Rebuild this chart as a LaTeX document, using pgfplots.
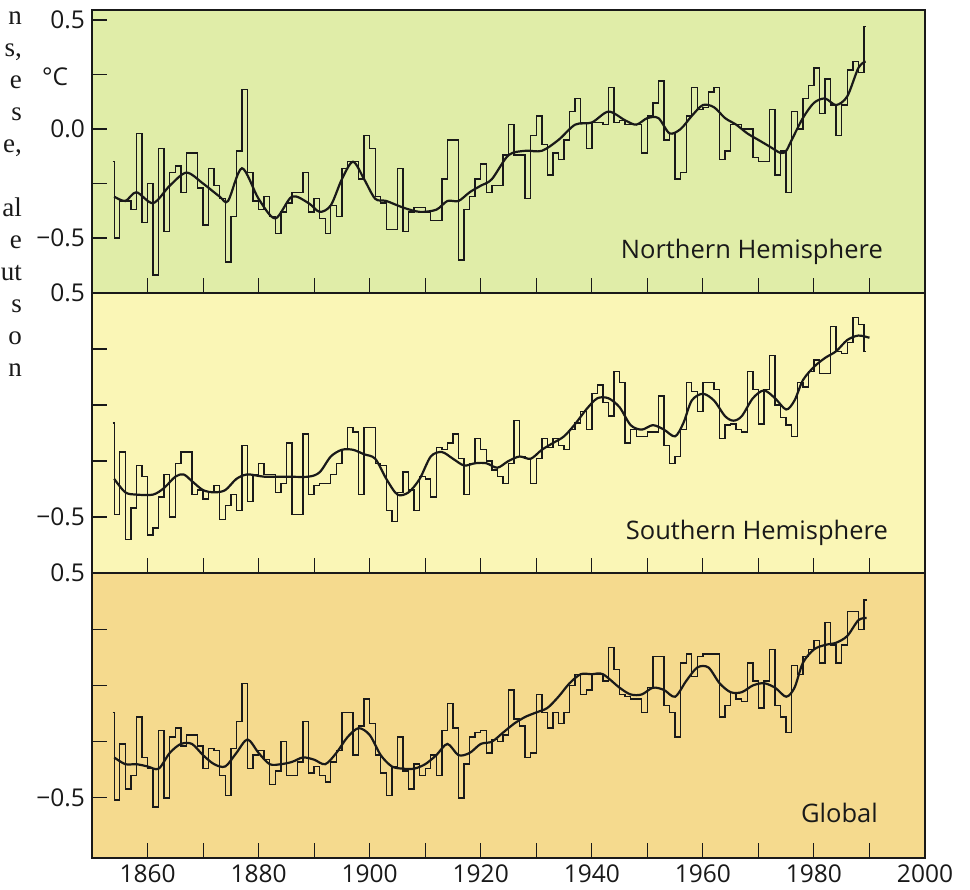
\documentclass[border=0pt]{standalone}
\usepackage{fontspec}
\setmainfont{Open Sans}
\newfontfamily\bookserif{Liberation Serif}
\usepackage{pgfplots}
\pgfplotsset{compat=1.18}
\definecolor{nhbg}{RGB}{224,237,168}
\definecolor{shbg}{RGB}{250,246,182}
\definecolor{glbg}{RGB}{245,218,142}
\definecolor{ink}{RGB}{25,25,25}
\pgfplotsset{
  panel/.style={
    scale only axis, width=833pt, xmin=1850, xmax=2000,
    anchor=south west,
    axis line style={draw=ink, line width=1.3pt},
    tick align=inside, xtick pos=bottom, ytick pos=left,
    tick style={draw=ink, line width=1.1pt},
    major tick length=15pt,
    xtick={1860,1870,...,2000},
    ytick={-0.5,-0.25,0,0.25,0.5},
    tick label style={font=\fontsize{24.5}{28}\selectfont, text=ink},
    yticklabel style={inner sep=0pt, xshift=-7pt},
    xticklabels={},
    clip=true,
  },
  step/.style={const plot, draw=ink, line width=1.4pt, mark=none},
  smo/.style={smooth, draw=ink, line width=2.2pt, mark=none},
}
\begin{document}
\begin{tikzpicture}
\path[use as bounding box] (0pt,0pt) rectangle (970pt,890pt);
\fill[white] (0pt,0pt) rectangle (970pt,890pt);
% clipped text fragments at left
\begin{scope}[every node/.style={anchor=base east, inner sep=0pt, font=\bookserif\fontsize{27}{32}\selectfont, text=ink}]
\node at (22pt,865pt) {n};
\node at (22pt,833pt) {s,};
\node at (22pt,801pt) {e};
\node at (22pt,769pt) {s};
\node at (22pt,737pt) {e,};
\node at (22pt,673pt) {al};
\node at (22pt,641pt) {e};
\node at (22pt,609pt) {ut};
\node at (22pt,577pt) {s};
\node at (22pt,545pt) {o};
\node at (22pt,513pt) {n};
\end{scope}
% ---------------- Northern Hemisphere ----------------
\begin{axis}[panel, at={(92pt,597pt)}, height=283pt, ymin=-0.752, ymax=0.546,
  axis background/.style={fill=nhbg},
  yticklabels={−0.5,,0.0,,0.5}]
\addplot[step] coordinates {
(1853.7,-0.15) (1854,-0.50) (1855,-0.33) (1856,-0.33) (1857,-0.37) (1858,-0.02) (1859,-0.43)
(1860,-0.25) (1861,-0.67) (1862,-0.09) (1863,-0.47) (1864,-0.20) (1865,-0.17) (1866,-0.29)
(1867,-0.11) (1868,-0.11) (1869,-0.27) (1870,-0.44) (1871,-0.18) (1872,-0.26) (1873,-0.32)
(1874,-0.61) (1875,-0.40) (1876,-0.10) (1877,0.18) (1878,-0.20) (1879,-0.33) (1880,-0.37)
(1881,-0.31) (1882,-0.40) (1883,-0.48) (1884,-0.38) (1885,-0.34) (1886,-0.29) (1887,-0.29)
(1888,-0.20) (1889,-0.38) (1890,-0.32) (1891,-0.41) (1892,-0.48) (1893,-0.35) (1894,-0.40)
(1895,-0.18) (1896,-0.15) (1897,-0.15) (1898,-0.23) (1899,-0.03) (1900,-0.09) (1901,-0.31)
(1902,-0.34) (1903,-0.46) (1904,-0.46) (1905,-0.18) (1906,-0.47) (1907,-0.38) (1908,-0.36)
(1909,-0.36) (1910,-0.38) (1911,-0.42) (1912,-0.42) (1913,-0.23) (1914,-0.05) (1915,-0.05)
(1916,-0.60) (1917,-0.37) (1918,-0.31) (1919,-0.23) (1920,-0.16) (1921,-0.29) (1922,-0.26)
(1923,-0.26) (1924,-0.12) (1925,0.02) (1926,-0.12) (1927,-0.12) (1928,-0.32) (1929,-0.03)
(1930,0.06) (1931,-0.07) (1932,-0.21) (1933,-0.11) (1934,-0.14) (1935,-0.05) (1936,0.08)
(1937,0.14) (1938,0.03) (1939,-0.09) (1940,0.03) (1941,0.03) (1942,0.02) (1943,0.19)
(1944,0.03) (1945,0.04) (1946,0.02) (1947,0.02) (1948,0.02) (1949,-0.11) (1950,0.06)
(1951,0.12) (1952,0.22) (1953,-0.05) (1954,-0.02) (1955,-0.23) (1956,-0.20) (1957,0.06)
(1958,0.19) (1959,0.09) (1960,0.10) (1961,0.17) (1962,0.19) (1963,-0.14) (1964,-0.10)
(1965,0.02) (1966,0.02) (1967,0.00) (1968,0.00) (1969,-0.13) (1970,-0.15) (1971,-0.15)
(1972,0.09) (1973,-0.21) (1974,-0.10) (1975,-0.29) (1976,0.08) (1977,0.00) (1978,0.14)
(1979,0.20) (1980,0.28) (1981,0.07) (1982,0.23) (1983,0.11) (1984,-0.03) (1985,0.11)
(1986,0.27) (1987,0.31) (1988,0.26) (1989,0.47) (1989.4,0.47)};
\addplot[smo] coordinates {
(1854,-0.31) (1856,-0.33) (1858,-0.29) (1861,-0.34) (1864,-0.26) (1867,-0.20) (1870,-0.25)
(1873,-0.31) (1874.5,-0.33) (1877,-0.18) (1880,-0.32) (1883,-0.41) (1886,-0.31) (1889,-0.34)
(1891,-0.38) (1893,-0.35) (1895,-0.23) (1897,-0.15) (1899,-0.23) (1901,-0.32) (1903,-0.33)
(1906,-0.36) (1909,-0.38) (1912,-0.37) (1914,-0.33) (1916,-0.33) (1918,-0.29) (1920,-0.26)
(1922,-0.23) (1925,-0.12) (1928,-0.10) (1931,-0.10) (1934,-0.05) (1937,0.02) (1940,0.03)
(1943,0.08) (1946,0.04) (1948,0.02) (1950,0.05) (1952,0.05) (1954,-0.02) (1956,0.00)
(1958,0.06) (1960,0.11) (1962,0.10) (1964,0.05) (1966,0.02) (1968,-0.02) (1970,-0.05)
(1972,-0.08) (1974,-0.11) (1975,-0.10) (1976,-0.05) (1978,0.05) (1980,0.12) (1982,0.14)
(1984,0.11) (1986,0.15) (1988,0.28) (1989.3,0.31)};
\end{axis}
% ---------------- Southern Hemisphere ----------------
\begin{axis}[panel, at={(92pt,317pt)}, height=280pt, ymin=-0.75, ymax=0.5,
  axis background/.style={fill=shbg},
  yticklabels={−0.5,,,,0.5}]
\addplot[step] coordinates {
(1853.7,-0.08) (1854,-0.49) (1855,-0.21) (1856,-0.60) (1857,-0.46) (1858,-0.27) (1859,-0.32)
(1860,-0.58) (1861,-0.55) (1862,-0.41) (1863,-0.31) (1864,-0.50) (1865,-0.26) (1866,-0.21)
(1867,-0.21) (1868,-0.40) (1869,-0.38) (1870,-0.42) (1871,-0.39) (1872,-0.36) (1873,-0.51)
(1874,-0.45) (1875,-0.40) (1876,-0.47) (1877,-0.18) (1878,-0.43) (1879,-0.31) (1880,-0.26)
(1881,-0.31) (1882,-0.31) (1883,-0.39) (1884,-0.35) (1885,-0.17) (1886,-0.49) (1887,-0.49)
(1888,-0.13) (1889,-0.40) (1890,-0.36) (1891,-0.35) (1892,-0.35) (1893,-0.31) (1894,-0.26)
(1895,-0.20) (1896,-0.10) (1897,-0.12) (1898,-0.40) (1899,-0.10) (1900,-0.10) (1901,-0.26)
(1902,-0.27) (1903,-0.47) (1904,-0.52) (1905,-0.39) (1906,-0.30) (1907,-0.38) (1908,-0.47)
(1909,-0.32) (1910,-0.33) (1911,-0.41) (1912,-0.19) (1913,-0.20) (1914,-0.17) (1915,-0.13)
(1916,-0.24) (1917,-0.40) (1918,-0.26) (1919,-0.15) (1920,-0.20) (1921,-0.25) (1922,-0.29)
(1923,-0.32) (1924,-0.35) (1925,-0.26) (1926,-0.07) (1927,-0.23) (1928,-0.24) (1929,-0.35)
(1930,-0.24) (1931,-0.15) (1932,-0.19) (1933,-0.15) (1934,-0.18) (1935,-0.20) (1936,-0.11)
(1937,-0.08) (1938,-0.03) (1939,-0.11) (1940,0.05) (1941,0.09) (1942,0.01) (1943,-0.05)
(1944,0.15) (1945,0.10) (1946,-0.17) (1947,-0.11) (1948,-0.14) (1949,-0.14) (1950,-0.12)
(1951,-0.12) (1952,0.04) (1953,-0.18) (1954,-0.26) (1955,-0.23) (1956,-0.11) (1957,0.10)
(1958,0.06) (1959,-0.03) (1960,0.10) (1961,0.10) (1962,0.07) (1963,-0.15) (1964,-0.09)
(1965,-0.085) (1966,-0.11) (1967,-0.12) (1968,0.15) (1969,0.07) (1970,-0.085) (1971,0.07)
(1972,0.22) (1973,0.00) (1974,-0.055) (1975,-0.09) (1976,-0.14) (1977,0.10) (1978,0.08)
(1979,0.15) (1980,0.20) (1981,0.14) (1982,0.14) (1983,0.35) (1984,0.24) (1985,0.23)
(1986,0.28) (1987,0.39) (1988,0.36) (1989,0.24) (1989.4,0.24)};
\addplot[smo] coordinates {
(1854,-0.33) (1856,-0.39) (1858,-0.40) (1861,-0.40) (1863,-0.37) (1865,-0.32) (1866.5,-0.31)
(1868,-0.34) (1870,-0.38) (1872,-0.39) (1874,-0.38) (1876,-0.33) (1878,-0.31) (1881,-0.32)
(1885,-0.32) (1889,-0.32) (1891,-0.30) (1893,-0.23) (1895,-0.20) (1897,-0.20) (1899,-0.22)
(1901,-0.24) (1903,-0.33) (1905,-0.40) (1907,-0.39) (1909,-0.33) (1911,-0.23) (1913,-0.21)
(1915,-0.24) (1917,-0.27) (1919,-0.26) (1921,-0.26) (1923,-0.28) (1925,-0.25) (1927,-0.23)
(1929,-0.24) (1931,-0.20) (1933,-0.17) (1935,-0.14) (1937,-0.085) (1939,-0.02) (1941,0.03)
(1943,0.03) (1945,-0.01) (1947,-0.09) (1949,-0.11) (1951,-0.09) (1953,-0.11) (1955,-0.14)
(1956.5,-0.08) (1958,0.02) (1960,0.05) (1962,0.02) (1964,-0.05) (1965.5,-0.07) (1967,-0.05)
(1969,0.03) (1971,0.065) (1973,0.03) (1975,-0.02) (1976.5,0.02) (1978,0.11) (1980,0.17)
(1982,0.21) (1984,0.24) (1986,0.29) (1988,0.31) (1990,0.30)};
\end{axis}
% ---------------- Global ----------------
\begin{axis}[panel, at={(92pt,32pt)}, height=285pt, ymin=-0.767, ymax=0.5,
  axis background/.style={fill=glbg},
  yticklabels={−0.5,,,,0.5},
  xticklabels={1860,,1880,,1900,,1920,,1940,,1960,,1980,,2000},
  xticklabel style={inner sep=0pt, yshift=-7pt}]
\addplot[step] coordinates {
(1853.7,-0.12) (1854,-0.51) (1855,-0.26) (1856,-0.46) (1857,-0.40) (1858,-0.14) (1859,-0.32)
(1860,-0.37) (1861,-0.54) (1862,-0.20) (1863,-0.50) (1864,-0.23) (1865,-0.19) (1866,-0.27)
(1867,-0.22) (1868,-0.22) (1869,-0.27) (1870,-0.37) (1871,-0.28) (1872,-0.29) (1873,-0.40)
(1874,-0.49) (1875,-0.28) (1876,-0.16) (1877,0.01) (1878,-0.37) (1879,-0.31) (1880,-0.29)
(1881,-0.33) (1882,-0.44) (1883,-0.38) (1884,-0.25) (1885,-0.40) (1886,-0.40) (1887,-0.34)
(1888,-0.16) (1889,-0.39) (1890,-0.36) (1891,-0.40) (1892,-0.43) (1893,-0.34) (1894,-0.29)
(1895,-0.12) (1896,-0.12) (1897,-0.31) (1898,-0.18) (1899,-0.06) (1900,-0.17) (1901,-0.31)
(1902,-0.39) (1903,-0.49) (1904,-0.36) (1905,-0.23) (1906,-0.38) (1907,-0.46) (1908,-0.35)
(1909,-0.40) (1910,-0.37) (1911,-0.31) (1912,-0.40) (1913,-0.20) (1914,-0.08) (1915,-0.19)
(1916,-0.50) (1917,-0.35) (1918,-0.23) (1919,-0.21) (1920,-0.20) (1921,-0.30) (1922,-0.24)
(1923,-0.25) (1924,-0.22) (1925,-0.02) (1926,-0.15) (1927,-0.18) (1928,-0.32) (1929,-0.30)
(1930,-0.04) (1931,-0.12) (1932,-0.19) (1933,-0.12) (1934,-0.17) (1935,-0.12) (1936,0.00)
(1937,0.05) (1938,-0.04) (1939,-0.02) (1940,0.05) (1941,0.05) (1942,0.02) (1943,0.17)
(1944,0.07) (1945,-0.04) (1946,-0.05) (1947,-0.06) (1948,-0.06) (1949,-0.12) (1950,-0.01)
(1951,0.13) (1952,0.13) (1953,-0.09) (1954,-0.12) (1955,-0.23) (1956,0.10) (1957,0.14)
(1958,0.04) (1959,0.13) (1960,0.14) (1961,0.14) (1962,0.14) (1963,-0.14) (1964,-0.09)
(1965,-0.03) (1966,-0.06) (1967,-0.07) (1968,0.10) (1969,0.02) (1970,-0.10) (1971,0.02)
(1972,0.16) (1973,-0.09) (1974,-0.14) (1975,-0.21) (1976,0.09) (1977,0.05) (1978,0.13)
(1979,0.16) (1980,0.20) (1981,0.10) (1982,0.28) (1983,0.18) (1984,0.10) (1985,0.18)
(1986,0.33) (1987,0.33) (1988,0.25) (1989,0.38) (1989.5,0.38)};
\addplot[smo] coordinates {
(1854,-0.32) (1856,-0.35) (1858,-0.35) (1860,-0.36) (1862,-0.37) (1864,-0.30) (1866,-0.26)
(1868,-0.26) (1870,-0.31) (1872,-0.35) (1874,-0.36) (1876,-0.30) (1878,-0.24) (1880,-0.30)
(1882,-0.35) (1884,-0.35) (1886,-0.34) (1888,-0.32) (1890,-0.33) (1892,-0.35) (1894,-0.30)
(1896,-0.23) (1898,-0.19) (1900,-0.22) (1902,-0.31) (1904,-0.36) (1906,-0.37) (1908,-0.37)
(1910,-0.35) (1912,-0.31) (1914,-0.26) (1916,-0.31) (1918,-0.30) (1920,-0.26) (1922,-0.25)
(1924,-0.21) (1926,-0.17) (1928,-0.14) (1930,-0.12) (1932,-0.10) (1934,-0.05) (1936,0.01)
(1938,0.05) (1940,0.05) (1942,0.05) (1945,-0.01) (1947,-0.04) (1949,-0.04) (1951,-0.01)
(1953,-0.02) (1955,-0.05) (1957,0.02) (1959,0.08) (1961,0.08) (1963,0.01) (1965,-0.03)
(1967,-0.03) (1969,0.00) (1971,0.01) (1973,-0.01) (1975,-0.05) (1976.5,-0.01) (1978,0.10)
(1980,0.16) (1982,0.18) (1984,0.19) (1986,0.22) (1988,0.29) (1989.5,0.30)};
\end{axis}
% labels
\node[anchor=center, font=\fontsize{24.5}{28}\selectfont, text=ink] at (55pt,813pt) {°C};
\node[anchor=base east, inner sep=0pt, font=\fontsize{25.5}{30}\selectfont, text=ink] at (883pt,631pt) {Northern Hemisphere};
\node[anchor=base east, inner sep=0pt, font=\fontsize{25.5}{30}\selectfont, text=ink] at (888pt,350pt) {Southern Hemisphere};
\node[anchor=base east, inner sep=0pt, font=\fontsize{25.5}{30}\selectfont, text=ink] at (878pt,67pt) {Global};
\end{tikzpicture}
\end{document}
